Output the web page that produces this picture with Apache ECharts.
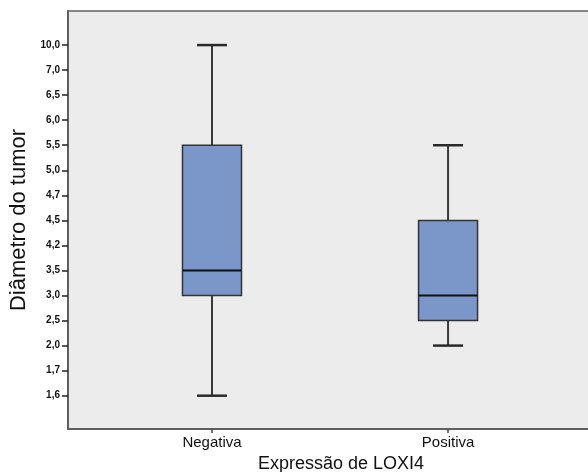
<!DOCTYPE html>
<html><head><meta charset="utf-8">
<script src="https://cdn.jsdelivr.net/npm/echarts@6/dist/echarts.min.js"></script>
<style>html,body{margin:0;padding:0;background:#fff}#c{width:588px;height:472px}</style>
</head><body><div id="c"></div>
<script>
const categories = ['Negativa', 'Positiva'];
const tickValues = [1.6, 1.7, 2.0, 2.5, 3.0, 3.5, 4.2, 4.5, 4.7, 5.0, 5.5, 6.0, 6.5, 7.0, 10.0];
const tickLabels = ['1,6', '1,7', '2,0', '2,5', '3,0', '3,5', '4,2', '4,5', '4,7', '5,0', '5,5', '6,0', '6,5', '7,0', '10,0'];
// [min, Q1, median, Q3, max]
const negativa = [1.6, 3.0, 3.5, 5.5, 10.0];
const positiva = [2.0, 2.5, 3.0, 4.5, 5.5];
const xTitle = 'Expressão de LOXI4';
const yTitle = 'Diâmetro do tumor';

// ordinal (equally spaced) y scale: value -> tick index
const pos = v => tickValues.indexOf(v);
const boxes = [negativa, positiva].map((s, i) => [i].concat(s.map(pos)));
const tickIdx = tickValues.map((v, i) => i);

function renderItem(params, api) {
  const x = api.value(0);
  const pt = k => api.coord([x, api.value(k)]);
  const cx = pt(1)[0];
  const yMin = pt(1)[1], yQ1 = pt(2)[1], yMed = pt(3)[1], yQ3 = pt(4)[1], yMax = pt(5)[1];
  const hw = 29.5, cw = 15;
  const wl = { stroke: '#3a3a3a', lineWidth: 2 };
  const cap = { stroke: '#2a2a2a', lineWidth: 2.5 };
  return { type: 'group', children: [
    { type: 'line', shape: { x1: cx, y1: yMax, x2: cx, y2: yQ3 }, style: wl },
    { type: 'line', shape: { x1: cx, y1: yQ1, x2: cx, y2: yMin }, style: wl },
    { type: 'line', shape: { x1: cx - cw, y1: yMax, x2: cx + cw, y2: yMax }, style: cap },
    { type: 'line', shape: { x1: cx - cw, y1: yMin, x2: cx + cw, y2: yMin }, style: cap },
    { type: 'rect', shape: { x: cx - hw, y: yQ3, width: 2 * hw, height: yQ1 - yQ3 }, style: { fill: '#7b96c9', stroke: '#333', lineWidth: 1.5 } },
    { type: 'line', shape: { x1: cx - hw, y1: yMed, x2: cx + hw, y2: yMed }, style: { stroke: '#111', lineWidth: 2 } }
  ]};
}

const chart = echarts.init(document.getElementById('c'), null, { renderer: 'canvas' });
chart.setOption({
  animation: false,
  grid: { left: 68, top: 11, right: -26, bottom: 43, outerBoundsMode: 'none', containLabel: false,
    show: true, backgroundColor: '#ececec', borderColor: '#5f5f5f', borderWidth: 1.5 },
  xAxis: {
    type: 'value', min: -0.61, max: 1.703,
    name: xTitle, nameLocation: 'middle', nameGap: 23,
    nameTextStyle: { fontFamily: 'Liberation Sans', fontSize: 18, color: '#111' },
    axisLine: { onZero: false, lineStyle: { color: '#5f5f5f', width: 2 } },
    axisTick: { show: true, length: 4, customValues: [0, 1], lineStyle: { color: '#444', width: 1.5 } },
    axisLabel: { customValues: [0, 1], formatter: v => categories[Math.round(v)] || '', margin: 6,
      fontFamily: 'Liberation Sans', fontSize: 15, color: '#111' },
    splitLine: { show: false }
  },
  yAxis: {
    type: 'value', min: -1.33, max: 15.36,
    name: yTitle, nameLocation: 'middle', nameGap: 32,
    nameTextStyle: { fontFamily: 'Liberation Sans', fontSize: 22, color: '#111' },
    axisLine: { onZero: false, lineStyle: { color: '#5f5f5f', width: 2 } },
    axisTick: { show: true, length: 6, customValues: tickIdx, lineStyle: { color: '#222', width: 1.5 } },
    axisLabel: { customValues: tickIdx, formatter: v => tickLabels[Math.round(v)] || '', margin: 8,
      fontFamily: 'Liberation Sans', fontSize: 10, fontWeight: 'bold', color: '#111' },
    splitLine: { show: false }
  },
  series: [{
    type: 'custom', renderItem: renderItem, data: boxes,
    encode: { x: 0, y: [1, 2, 3, 4, 5] }, clip: false
  }]
});
</script></body></html>
